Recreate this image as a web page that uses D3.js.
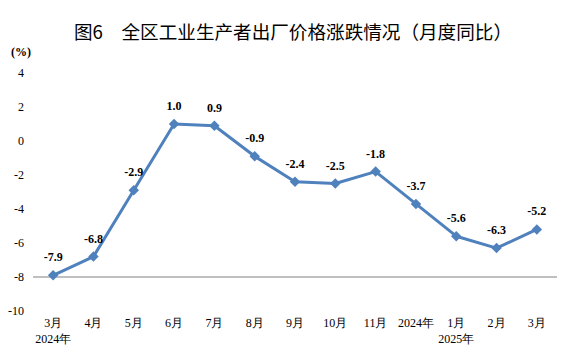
<!DOCTYPE html>
<html><head><meta charset="utf-8">
<script src="https://cdn.jsdelivr.net/npm/d3@7"></script>
<style>body{margin:0;background:#fff}svg{display:block}</style>
</head><body>
<svg id="c" width="568" height="356"></svg>
<script>
const months = ["3月","4月","5月","6月","7月","8月","9月","10月","11月","2024年","1月","2月","3月"];
const yearLabels = ["2024年","","","","","","","","","","2025年","",""];
const values = [-7.9,-6.8,-2.9,1.0,0.9,-0.9,-2.4,-2.5,-1.8,-3.7,-5.6,-6.3,-5.2];
const yTicks = [4,2,0,-2,-4,-6,-8,-10];
const title = "图6　全区工业生产者出厂价格涨跌情况（月度同比）";

const svg = d3.select("#c");
const serif = "'Liberation Serif','Times New Roman',serif";
const x = d3.scaleBand().domain(d3.range(months.length)).range([33,557]);
const y = d3.scaleLinear().domain([-10,4]).range([311,73]);
const blue = "#4f81bd";

svg.append("text").attr("x",293).attr("y",39).attr("text-anchor","middle")
  .attr("font-family","'Noto Sans CJK SC',sans-serif").attr("font-size",18.6).attr("fill","#000").text(title);
svg.append("text").attr("x",11).attr("y",56).attr("font-family",serif).attr("font-weight","bold")
  .attr("font-size",12).text("(%)");

svg.append("g").selectAll("text").data(yTicks).join("text")
  .attr("x",24).attr("y",d=>y(d)+4).attr("text-anchor","end")
  .attr("font-family",serif).attr("font-size",12).text(d=>d);

svg.append("line").attr("x1",33).attr("x2",557).attr("y1",y(-8)).attr("y2",y(-8))
  .attr("stroke","#808080").attr("stroke-width",1);

svg.append("g").selectAll("text").data(months).join("text")
  .attr("x",(d,i)=>x(i)+x.bandwidth()/2).attr("y",327).attr("text-anchor","middle")
  .attr("font-family",serif).attr("font-size",12).text(d=>d);
svg.append("g").selectAll("text").data(yearLabels).join("text")
  .attr("x",(d,i)=>x(i)+x.bandwidth()/2).attr("y",343).attr("text-anchor","middle")
  .attr("font-family",serif).attr("font-size",12).text(d=>d);

const cx = i => x(i)+x.bandwidth()/2;
svg.append("path").datum(values)
  .attr("d", d3.line().x((d,i)=>cx(i)).y(d=>y(d)))
  .attr("fill","none").attr("stroke",blue).attr("stroke-width",3).attr("stroke-linejoin","round");

svg.append("g").selectAll("path").data(values).join("path")
  .attr("transform",(d,i)=>`translate(${cx(i)},${y(d)})`)
  .attr("d", d3.symbol(d3.symbolDiamond2, 70)()).attr("fill",blue);

svg.append("g").selectAll("text").data(values).join("text")
  .attr("x",(d,i)=>cx(i)).attr("y",d=>y(d)-14).attr("text-anchor","middle")
  .attr("font-family",serif).attr("font-weight","bold").attr("font-size",12)
  .text(d=>d.toFixed(1));
</script>
</body></html>
